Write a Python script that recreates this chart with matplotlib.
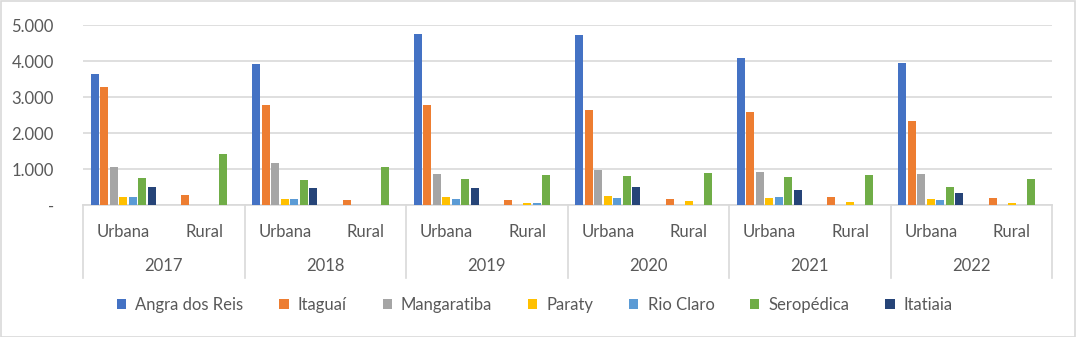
import matplotlib
matplotlib.use("Agg")
from matplotlib import pyplot as plt
from matplotlib.patches import Rectangle
from matplotlib.ticker import FuncFormatter

years = ["2017", "2018", "2019", "2020", "2021", "2022"]
zones = ["Urbana", "Rural"]

# values per municipality, order: 2017 Urbana, 2017 Rural, 2018 Urbana, ...
angra = [3640, 0, 3920, 0, 4750, 0, 4720, 0, 4080, 0, 3940, 0]
itaguai = [3280, 280, 2780, 140, 2780, 140, 2640, 170, 2580, 220, 2330, 190]
mangaratiba = [1060, 0, 1170, 0, 860, 0, 970, 0, 920, 0, 860, 0]
paraty = [220, 0, 170, 0, 220, 65, 250, 110, 190, 80, 170, 55]
rio_claro = [220, 0, 170, 0, 170, 55, 190, 0, 220, 0, 140, 0]
seropedica = [750, 1420, 690, 1060, 720, 830, 810, 890, 780, 830, 500, 720]
itatiaia = [500, 0, 470, 0, 470, 0, 500, 0, 420, 0, 330, 0]

series = [
    ("Angra dos Reis", angra, "#4472C4"),
    ("Itaguaí", itaguai, "#ED7D31"),
    ("Mangaratiba", mangaratiba, "#A5A5A5"),
    ("Paraty", paraty, "#FFC000"),
    ("Rio Claro", rio_claro, "#5B9BD5"),
    ("Seropédica", seropedica, "#70AD47"),
    ("Itatiaia", itatiaia, "#264478"),
]

plt.rcParams['font.family'] = ['Lato', 'DejaVu Sans']
txt_color = "#595959"
grid_color = "#D9D9D9"
fsize = 12

fig = plt.figure(figsize=(10.76, 3.37), dpi=100)
ax = fig.add_axes([83 / 1076, 1 - 205 / 337, 969 / 1076, 180 / 337])

n_cat = len(years) * len(zones)
x_pos = list(range(n_cat))
step = 0.1176
width = 0.099

for i, (name, vals, color) in enumerate(series):
    offset = (i - 3) * step
    ax.bar([x + offset for x in x_pos], vals, width=width, color=color,
           label=name, zorder=3)

ax.set_xlim(-0.5, n_cat - 0.5)
ax.set_ylim(0, 5000)
ax.set_yticks([0, 1000, 2000, 3000, 4000, 5000])
ax.yaxis.set_major_formatter(FuncFormatter(
    lambda v, p: "-" if v == 0 else f"{int(v):,}".replace(",", ".")))
ax.grid(axis="y", color=grid_color, linewidth=1.2, zorder=0)

for side in ["top", "right", "left"]:
    ax.spines[side].set_visible(False)
ax.spines["bottom"].set_color(grid_color)
ax.spines["bottom"].set_linewidth(1.2)

ax.set_xticks(x_pos)
ax.set_xticklabels(zones * len(years))
ax.tick_params(axis="x", length=0, pad=14, labelsize=fsize, labelcolor=txt_color)
ax.tick_params(axis="y", length=0, pad=21, labelsize=fsize, labelcolor=txt_color)

# year row and group separators
sep_bottom = -(278 - 205) / 180
for k, yr in enumerate(years):
    ax.text(2 * k + 0.5, -(266 - 205) / 180, yr, transform=ax.get_xaxis_transform(),
            ha="center", va="center", fontsize=fsize, color=txt_color)
for k in range(len(years) + 1):
    ax.plot([2 * k - 0.5, 2 * k - 0.5], [0, sep_bottom], color=grid_color,
            linewidth=1.2, transform=ax.get_xaxis_transform(), clip_on=False)

fig.legend(loc="center", bbox_to_anchor=(535 / 1076, 1 - 305 / 337), ncol=7,
           frameon=False, fontsize=fsize, labelcolor=txt_color, handlelength=0.55,
           handleheight=0.55, handletextpad=0.55, columnspacing=2.15)

fig.patches.append(Rectangle((0.5 / 1076, 0.5 / 337), 1 - 1.5 / 1076, 1 - 1.5 / 337,
                             transform=fig.transFigure, fill=False,
                             edgecolor=grid_color, linewidth=1.2))

fig.savefig("out.png", dpi=100)
